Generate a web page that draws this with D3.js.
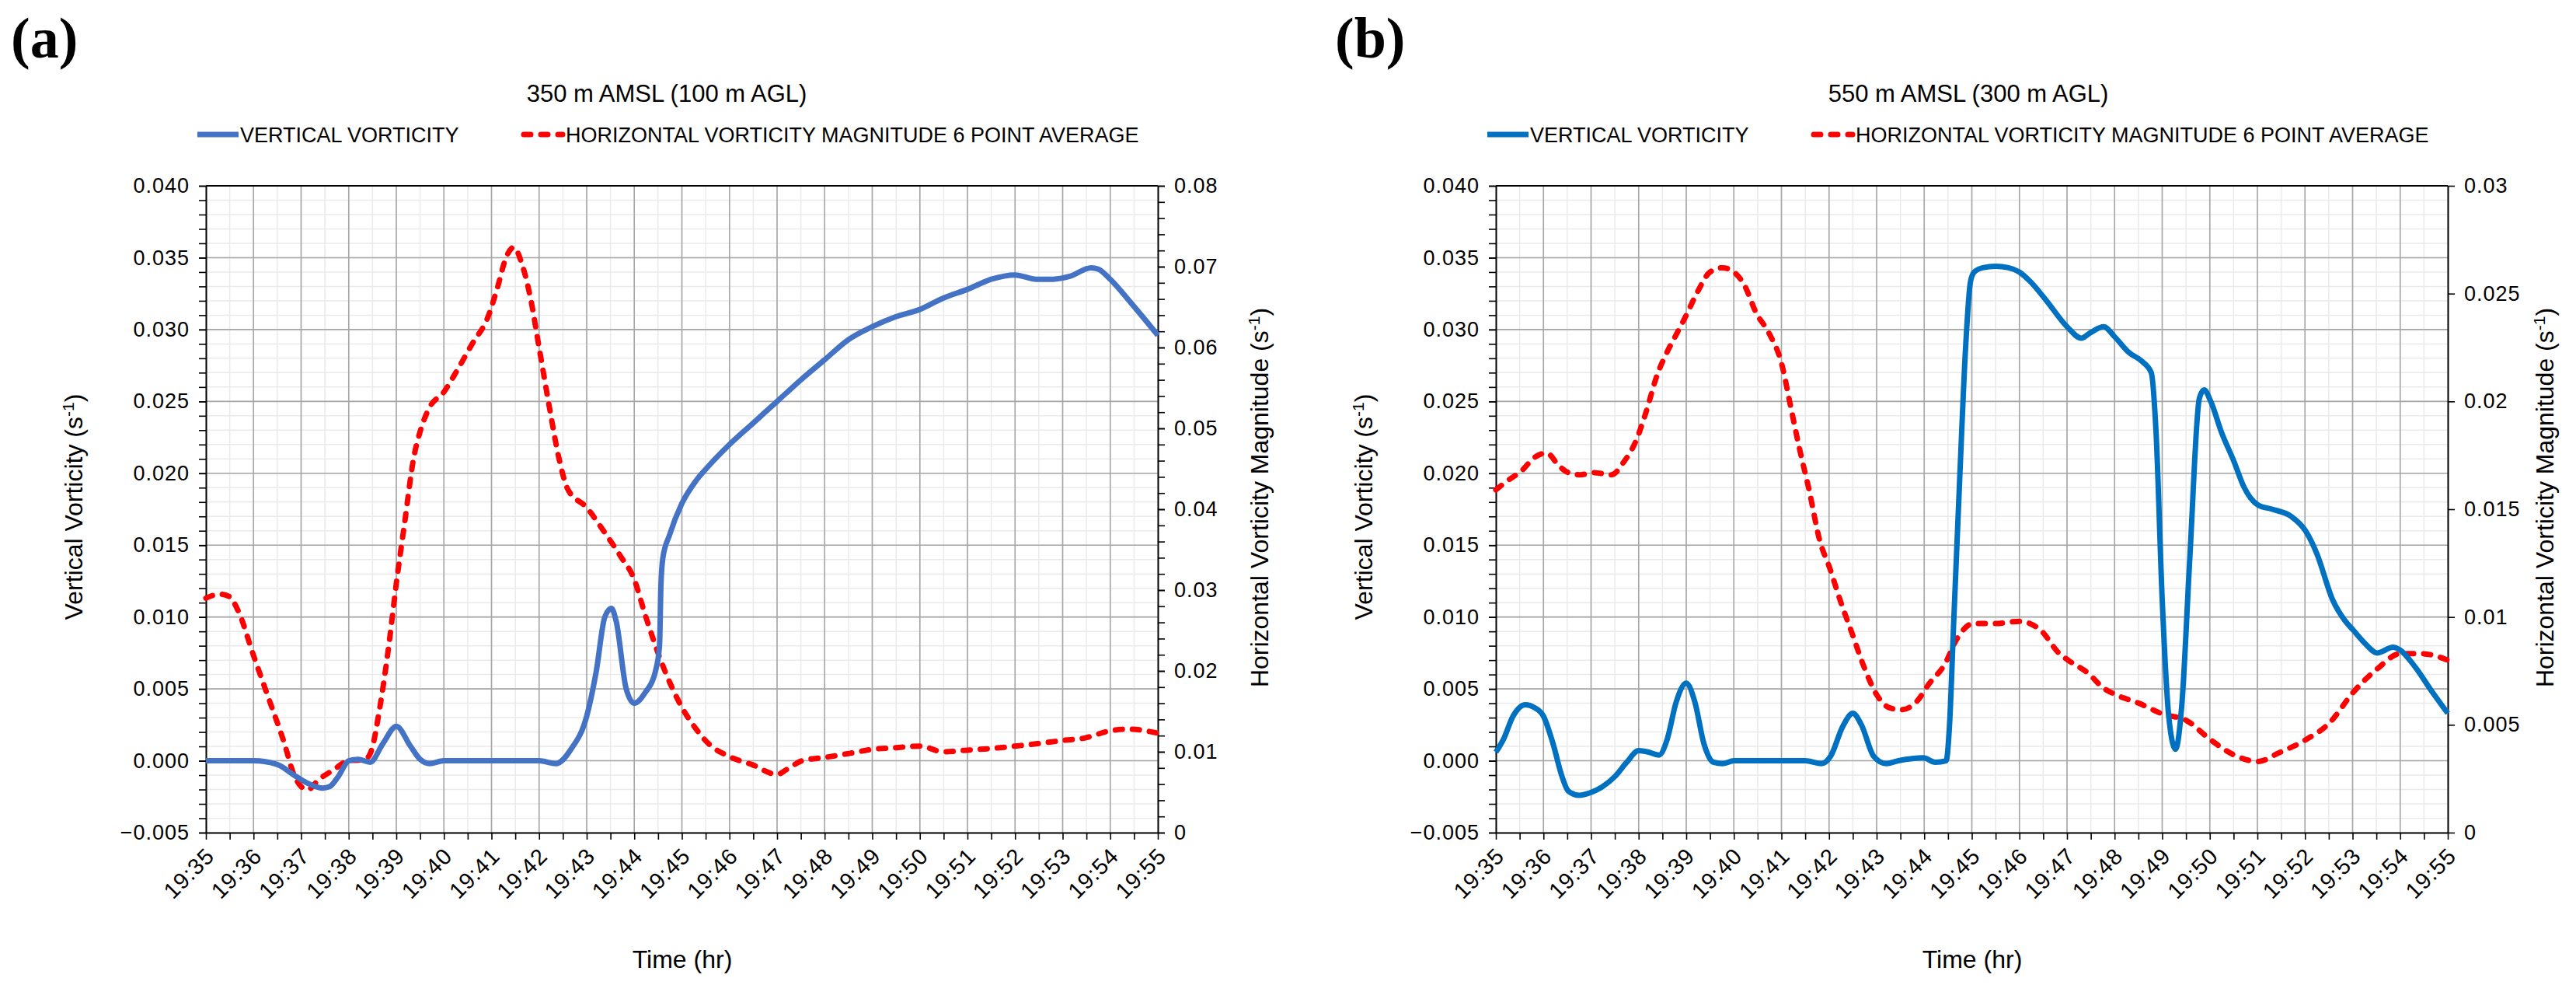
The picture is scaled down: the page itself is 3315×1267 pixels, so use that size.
<!DOCTYPE html>
<html>
<head>
<meta charset="utf-8">
<script src="https://cdn.jsdelivr.net/npm/d3@7"></script>
<style>
  body { margin: 0; background: #fff; }
  text { font-family: "Liberation Sans", Arial, sans-serif; fill: #000; }
</style>
</head>
<body>
<div id="chart"></div>
<script>
// time is minutes after 19:35
var timeLabels = ["19:35","19:36","19:37","19:38","19:39","19:40","19:41","19:42","19:43","19:44","19:45",
                  "19:46","19:47","19:48","19:49","19:50","19:51","19:52","19:53","19:54","19:55"];

// (a) 350 m AMSL
var aVertT = [0, 0.7, 1.0, 1.5, 1.85, 2.1, 2.45, 2.6, 2.78, 3.0, 3.2, 3.45, 3.72, 4.0, 4.3, 4.5, 4.7, 5.0, 6.0, 7.0,
              7.35, 7.67, 8.0, 8.2, 8.38, 8.52, 8.62, 8.83, 9.0, 9.22, 9.45, 9.53, 9.56, 9.6, 9.74, 10.0, 10.3, 10.56, 11.0, 11.5,
              12.0, 12.5, 13.0, 13.5, 14.0, 14.5, 15.0, 15.5, 16.0, 16.5, 17.0, 17.45, 17.8, 18.15, 18.6, 18.75, 19.0, 19.45, 20.0];
var aVertV = [0, 0, 0, -0.00026, -0.001, -0.0015, -0.0019, -0.0018, -0.0011, 0, 0.0001, -0.0001, 0.0012, 0.0024, 0.001, 0.0001, -0.0002, 0, 0, 0,
              -0.0002, 0.0008, 0.0031, 0.0062, 0.0100, 0.0106, 0.0097, 0.005, 0.004, 0.0047, 0.0063, 0.0080, 0.0122, 0.0141, 0.0157, 0.0179, 0.0195, 0.0205, 0.0220, 0.0235,
              0.0250, 0.0265, 0.0279, 0.0293, 0.0302, 0.0309, 0.0314, 0.0322, 0.0328, 0.0335, 0.0338, 0.0335, 0.0335, 0.0337, 0.0343, 0.0342, 0.0335, 0.0318, 0.0296];
var aHorizT = [0, 0.29, 0.49, 0.68, 1.0, 1.33, 1.65, 1.84, 2.0, 2.14, 2.36, 2.69, 3.0, 3.33, 3.46, 3.66, 3.85, 4.0, 4.17, 4.37,
               4.5, 4.69, 5.0, 5.28, 5.6, 5.92, 6.12, 6.31, 6.47, 6.63, 6.83, 7.0, 7.22, 7.41, 7.6, 8.0, 8.38, 8.71, 9.0, 9.22,
               9.55, 10.0, 10.3, 10.56, 11.0, 11.48, 12.0, 12.2, 12.53, 13.0, 13.52, 14.0, 14.5, 15.0, 15.5, 16.0, 16.48, 17.0, 17.47, 18.0,
               18.46, 19.0, 19.38, 20.0];
var aHorizV = [0.0290, 0.0295, 0.0292, 0.0274, 0.0219, 0.0164, 0.0110, 0.0073, 0.0057, 0.0053, 0.0065, 0.0078, 0.0089, 0.0090, 0.0099, 0.0157, 0.0235, 0.0308, 0.0381, 0.0465,
               0.0496, 0.0525, 0.0545, 0.0572, 0.0605, 0.0637, 0.0673, 0.0712, 0.0724, 0.0705, 0.0658, 0.0600, 0.0525, 0.0465, 0.0425, 0.0402, 0.0371, 0.0342, 0.0313, 0.0271,
               0.0214, 0.0155, 0.0128, 0.0110, 0.0094, 0.0084, 0.0072, 0.0078, 0.0089, 0.0093, 0.0098, 0.0103, 0.0105, 0.0107, 0.0100, 0.0102, 0.0104, 0.0107, 0.0110, 0.0114,
               0.0117, 0.0126, 0.0128, 0.0123];

// (b) 550 m AMSL
var bVertT = [0, 0.16, 0.36, 0.62, 0.81, 1.0, 1.2, 1.39, 1.52, 1.75, 2.0, 2.24, 2.5, 2.75, 3.0, 3.21, 3.43, 3.6, 3.79, 4.0,
              4.18, 4.37, 4.57, 4.76, 5.0, 6.5, 6.84, 7.03, 7.29, 7.5, 7.68, 7.94, 8.2, 8.46, 8.98, 9.23, 9.46, 9.53, 9.62, 9.75,
              9.87, 9.97, 10.05, 10.23, 10.5, 10.77, 11.0, 11.24, 11.57, 12.0, 12.3, 12.5, 12.77, 13.0, 13.3, 13.57, 13.77, 13.87, 14.0, 14.14,
              14.28, 14.41, 14.58, 14.78, 14.88, 15.02, 15.24, 15.51, 15.71, 16.01, 16.31, 16.71, 17.01, 17.25, 17.58, 17.85, 18.01, 18.25, 18.52, 18.85,
              19.0, 19.32, 19.65, 20.0];
var bVertV = [0.0006, 0.0015, 0.0031, 0.0039, 0.0037, 0.0031, 0.0012, -0.0011, -0.0021, -0.0024, -0.0022, -0.0018, -0.0011, -0.0001, 0.0007, 0.0006, 0.0004, 0.0015, 0.0041, 0.0054,
              0.0041, 0.0012, -0.0001, -0.0002, 0, 0, -0.0002, 0.0003, 0.0024, 0.0033, 0.0025, 0.0003, -0.0002, 0.0000, 0.0002, -0.0001, 0.0000, 0.0024, 0.0097, 0.0200,
              0.0288, 0.0333, 0.0340, 0.0343, 0.0344, 0.0343, 0.0340, 0.0333, 0.0320, 0.0302, 0.0294, 0.0298, 0.0302, 0.0295, 0.0284, 0.0278, 0.0270, 0.0229, 0.0112, 0.0030,
              0.0008, 0.0038, 0.0141, 0.0252, 0.0258, 0.0250, 0.0229, 0.0208, 0.0191, 0.0178, 0.0175, 0.0170, 0.0160, 0.0144, 0.0112, 0.0097, 0.0091, 0.0082, 0.0075, 0.0079,
              0.0077, 0.0065, 0.0049, 0.0033];
var bHorizT = [0, 0.23, 0.55, 0.81, 1.07, 1.33, 1.52, 1.78, 2.04, 2.43, 2.69, 2.95, 3.14, 3.4, 3.6, 3.79, 4.0, 4.24, 4.5, 4.76,
               5.0, 5.22, 5.47, 5.73, 6.01, 6.19, 6.38, 6.58, 6.81, 7.01, 7.23, 7.49, 7.75, 8.0, 8.26, 8.52, 8.85, 9.1, 9.43, 9.69,
               10.03, 10.5, 11.0, 11.44, 11.84, 12.02, 12.44, 12.77, 13.02, 13.51, 14.01, 14.51, 15.02, 15.51, 16.01, 16.45, 17.01, 17.52, 18.01, 18.52,
               19.0, 19.45, 20.0];
var bHorizV = [0.0159, 0.0163, 0.0168, 0.0174, 0.0176, 0.0170, 0.0167, 0.0166, 0.0167, 0.0166, 0.0172, 0.0182, 0.0194, 0.0213, 0.0223, 0.0231, 0.0240, 0.0251, 0.0260, 0.0262,
               0.0260, 0.0254, 0.0241, 0.0232, 0.0217, 0.0198, 0.0178, 0.0159, 0.0135, 0.0123, 0.0108, 0.0092, 0.0076, 0.0064, 0.0058, 0.0057, 0.0061, 0.0069, 0.0078, 0.0090,
               0.0097, 0.0097, 0.0098, 0.0094, 0.0083, 0.0080, 0.0074, 0.0067, 0.0064, 0.0060, 0.0055, 0.0052, 0.0043, 0.0036, 0.0033, 0.0037, 0.0043, 0.0051, 0.0065, 0.0076,
               0.0083, 0.0083, 0.0080];

var svg = d3.select("#chart").append("svg")
    .attr("width", 3315)
    .attr("height", 1267);

function drawPanel(p) {
    var g = svg.append("g").attr("transform", "translate(" + p.dx + ",0)");
    var left = 265, right = 1490, top = 239, bottom = 1071;

    var x = d3.scaleLinear().domain([0, 20]).range([left, right]);
    var y = d3.scaleLinear().domain([-0.005, 0.040]).range([bottom, top]);
    var y2 = d3.scaleLinear().domain([0, p.rightMax]).range([bottom, top]);

    // minor grid
    g.append("g").selectAll("line").data(d3.range(0, 20.01, 0.5)).enter().append("line")
        .attr("x1", d => x(d)).attr("x2", d => x(d)).attr("y1", top).attr("y2", bottom)
        .attr("stroke", "#eaeaea").attr("stroke-width", 1.5);
    g.append("g").selectAll("line").data(d3.range(-5, 41, 1)).enter().append("line")
        .attr("y1", d => y(d / 1000)).attr("y2", d => y(d / 1000)).attr("x1", left).attr("x2", right)
        .attr("stroke", "#eaeaea").attr("stroke-width", 1.5);
    // major grid
    g.append("g").selectAll("line").data(d3.range(1, 20, 1)).enter().append("line")
        .attr("x1", d => x(d)).attr("x2", d => x(d)).attr("y1", top).attr("y2", bottom)
        .attr("stroke", "#a6a6a6").attr("stroke-width", 1.6);
    g.append("g").selectAll("line").data(d3.range(0, 40, 5)).enter().append("line")
        .attr("y1", d => y(d / 1000)).attr("y2", d => y(d / 1000)).attr("x1", left).attr("x2", right)
        .attr("stroke", "#a6a6a6").attr("stroke-width", 1.6);

    // axes
    var leftMajor = d3.range(-5, 41, 5).map(d => d / 1000);
    var leftMinor = d3.range(-5, 41, 1).map(d => d / 1000);
    g.append("g").attr("transform", "translate(" + left + ",0)")
        .call(d3.axisLeft(y).tickValues(leftMinor).tickSize(9).tickFormat(""))
        .call(a => a.select(".domain").remove());
    g.append("g").attr("transform", "translate(" + left + ",0)")
        .call(d3.axisLeft(y).tickValues(leftMajor).tickSize(9).tickPadding(12).tickSizeOuter(0)
            .tickFormat(d3.format(".3f")))
        .call(a => a.selectAll("text").attr("font-size", p.tickFont).attr("font-family", "Liberation Sans, Arial")
            .attr("letter-spacing", 1));

    g.append("g").attr("transform", "translate(" + right + ",0)")
        .call(d3.axisRight(y2).tickValues(p.rightMinor).tickSize(9).tickFormat(""))
        .call(a => a.select(".domain").remove());
    g.append("g").attr("transform", "translate(" + right + ",0)")
        .call(d3.axisRight(y2).tickValues(p.rightMajor).tickSize(9).tickPadding(12).tickSizeOuter(0)
            .tickFormat(d => String(+d.toFixed(3))))
        .call(a => a.selectAll("text").attr("font-size", p.tickFont).attr("font-family", "Liberation Sans, Arial")
            .attr("letter-spacing", 1));

    var xAxis = g.append("g").attr("transform", "translate(0," + bottom + ")")
        .call(d3.axisBottom(x).tickValues(d3.range(0, 20.01, 0.5)).tickSize(9).tickSizeOuter(0)
            .tickFormat(d => (d % 1 === 0) ? timeLabels[d] : ""));
    xAxis.selectAll("text")
        .attr("font-size", 29).attr("font-family", "Liberation Sans, Arial")
        .attr("letter-spacing", 1)
        .attr("text-anchor", "end")
        .attr("dy", 0).attr("y", 0)
        .attr("transform", "translate(12,32) rotate(-45)");

    g.append("line").attr("x1", left).attr("x2", right).attr("y1", top).attr("y2", top)
        .attr("stroke", "#000").attr("stroke-width", 2);
    g.selectAll(".domain").attr("stroke-width", 2);
    g.selectAll(".tick line").attr("stroke-width", 1.6);

    // series
    var line1 = d3.line().x((d, i) => x(p.vT[i])).y(d => y(d)).curve(d3.curveMonotoneX);
    var line2 = d3.line().x((d, i) => x(p.hT[i])).y(d => y2(d)).curve(d3.curveMonotoneX);

    g.append("path").datum(p.hV).attr("d", line2)
        .attr("fill", "none").attr("stroke", "#ff0000").attr("stroke-width", 7)
        .attr("stroke-dasharray", "9,13").attr("stroke-linecap", "round");
    g.append("path").datum(p.vV).attr("d", line1)
        .attr("fill", "none").attr("stroke", p.blue).attr("stroke-width", 7)
        .attr("stroke-linejoin", "round");

    // titles
    g.append("text").attr("x", p.titleX).attr("y", 131).attr("text-anchor", "middle")
        .attr("font-size", 31).text(p.title);
    g.append("text").attr("x", p.labelX).attr("y", 74)
        .style("font-family", "Liberation Serif, Times New Roman, serif")
        .attr("font-weight", "bold").attr("font-size", 74).text(p.label);

    // legend
    var lg = g.append("g");
    lg.append("line").attr("x1", 254).attr("x2", 307).attr("y1", 173).attr("y2", 173)
        .attr("stroke", p.blue).attr("stroke-width", 7);
    lg.append("text").attr("x", 309).attr("y", 183).attr("font-size", 27).text("VERTICAL VORTICITY");
    lg.append("line").attr("x1", 674).attr("x2", 724).attr("y1", 173).attr("y2", 173)
        .attr("stroke", "#ff0000").attr("stroke-width", 7)
        .attr("stroke-dasharray", "9,13").attr("stroke-linecap", "round");
    lg.append("text").attr("x", 728).attr("y", 183).attr("font-size", 27)
        .text("HORIZONTAL VORTICITY MAGNITUDE 6 POINT AVERAGE");

    // axis titles
    g.append("text").attr("x", 878).attr("y", 1245).attr("text-anchor", "middle")
        .attr("font-size", 32).text("Time (hr)");
    var lt = g.append("text").attr("text-anchor", "middle").attr("font-size", 32)
        .attr("transform", "translate(" + p.leftTitleX + ",652) rotate(-90)");
    lt.append("tspan").text("Vertical Vorticity (s");
    lt.append("tspan").attr("dy", -11).attr("font-size", 21).text("-1");
    lt.append("tspan").attr("dy", 11).text(")");
    var rt = g.append("text").attr("text-anchor", "middle").attr("font-size", 32)
        .attr("transform", "translate(" + p.rightTitleX + ",640) rotate(-90)");
    rt.append("tspan").text("Horizontal Vorticity Magnitude (s");
    rt.append("tspan").attr("dy", -11).attr("font-size", 21).text("-1");
    rt.append("tspan").attr("dy", 11).text(")");
}

drawPanel({
    dx: 0, label: "(a)", labelX: 14, title: "350 m AMSL (100 m AGL)", titleX: 858,
    blue: "#4472c4", vT: aVertT, vV: aVertV, hT: aHorizT, hV: aHorizV,
    rightMax: 0.08, rightMajor: d3.range(0, 9, 1).map(d => d / 100), rightMinor: d3.range(0, 41, 1).map(d => d / 500),
    tickFont: 27, leftTitleX: 106, rightTitleX: 1632
});
drawPanel({
    dx: 1660, label: "(b)", labelX: 58, title: "550 m AMSL (300 m AGL)", titleX: 873,
    blue: "#0070c0", vT: bVertT, vV: bVertV, hT: bHorizT, hV: bHorizV,
    rightMax: 0.03, rightMajor: d3.range(0, 7, 1).map(d => d / 200), rightMinor: [],
    tickFont: 27, leftTitleX: 106, rightTitleX: 1626
});
</script>
</body>
</html>
